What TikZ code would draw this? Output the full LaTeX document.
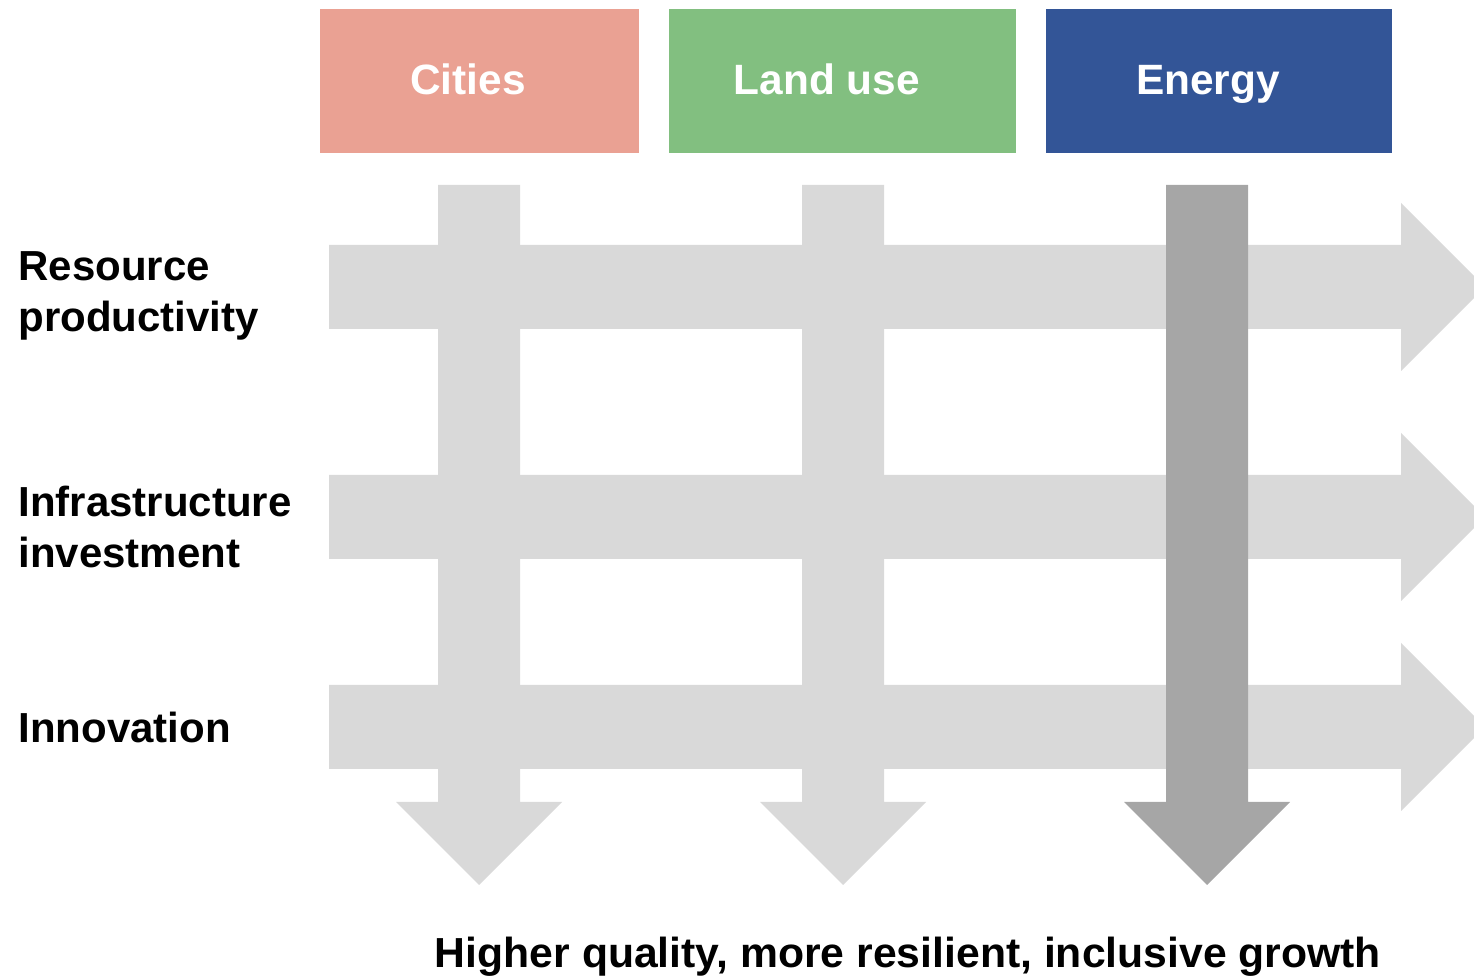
\documentclass[tikz,border=0pt]{standalone}
\usepackage{fontspec}
\setmainfont{Liberation Sans}
\usepackage{graphicx}
\definecolor{citycol}{HTML}{EAA193}
\definecolor{landcol}{HTML}{82BF80}
\definecolor{energycol}{HTML}{335597}
\definecolor{lightarrow}{HTML}{D9D9D9}
\definecolor{darkarrow}{HTML}{A6A6A6}
\tikzset{
  topbox/.style={inner sep=0pt},
  toptext/.style={text=white, font=\fontsize{21.2}{26}\selectfont\bfseries, inner sep=0pt, anchor=base},
  rowlabel/.style={font=\fontsize{21}{26}\selectfont\bfseries, inner sep=0pt, anchor=base west, align=left},
  harrow/.style={fill=lightarrow},
  varrow/.style={fill=lightarrow},
  varrowdark/.style={fill=darkarrow}
}
\begin{document}
\begin{tikzpicture}[x=0.5pt,y=-0.5pt]
\useasboundingbox (0,0) rectangle (1474,977);
\begin{scope}
\clip (0,0) rectangle (1474,977);
% top boxes
\fill[citycol] (320,9) rectangle (639,153);
\fill[landcol] (669,9) rectangle (1016,153);
\fill[energycol] (1046,9) rectangle (1392,153);
\node[toptext] (cities) at (468,95) {Cities};
\node[toptext] (landuse) at (827,95) {Land use};
\node[toptext] (energy) at (1208,95) {Energy};
% horizontal arrows
\foreach \c/\n in {287/h1,517/h2,727/h3}{
  \fill[harrow] (329,\c-42) -- (1401,\c-42) -- (1401,\c-84) -- (1485,\c) -- (1401,\c+84) -- (1401,\c+42) -- (329,\c+42) -- cycle;
}
% vertical arrows (light)
\foreach \c in {479,843}{
  \fill[varrow] (\c-41,185) -- (\c+41,185) -- (\c+41,802) -- (\c+83,802) -- (\c,885) -- (\c-83,802) -- (\c-41,802) -- cycle;
}
% dark vertical arrow
\fill[varrowdark] (1166,185) -- (1248,185) -- (1248,802) -- (1290,802) -- (1207,885) -- (1124,802) -- (1166,802) -- cycle;
\end{scope}
% row labels
\node[rowlabel] (rp1) at (18,281) {Resource};
\node[rowlabel] (rp2) at (18,332) {productivity};
\node[rowlabel] (ii1) at (18,517) {Infrastructure};
\node[rowlabel] (ii2) at (18,568) {investment};
\node[rowlabel] (inn) at (18,743) {Innovation};
% bottom text
\node[inner sep=0pt, anchor=base, font=\fontsize{21}{25}\selectfont\bfseries] (growth) at (908,968)
  {\resizebox{473pt}{\height}{Higher quality, more resilient, inclusive growth}};
\end{tikzpicture}
\end{document}
